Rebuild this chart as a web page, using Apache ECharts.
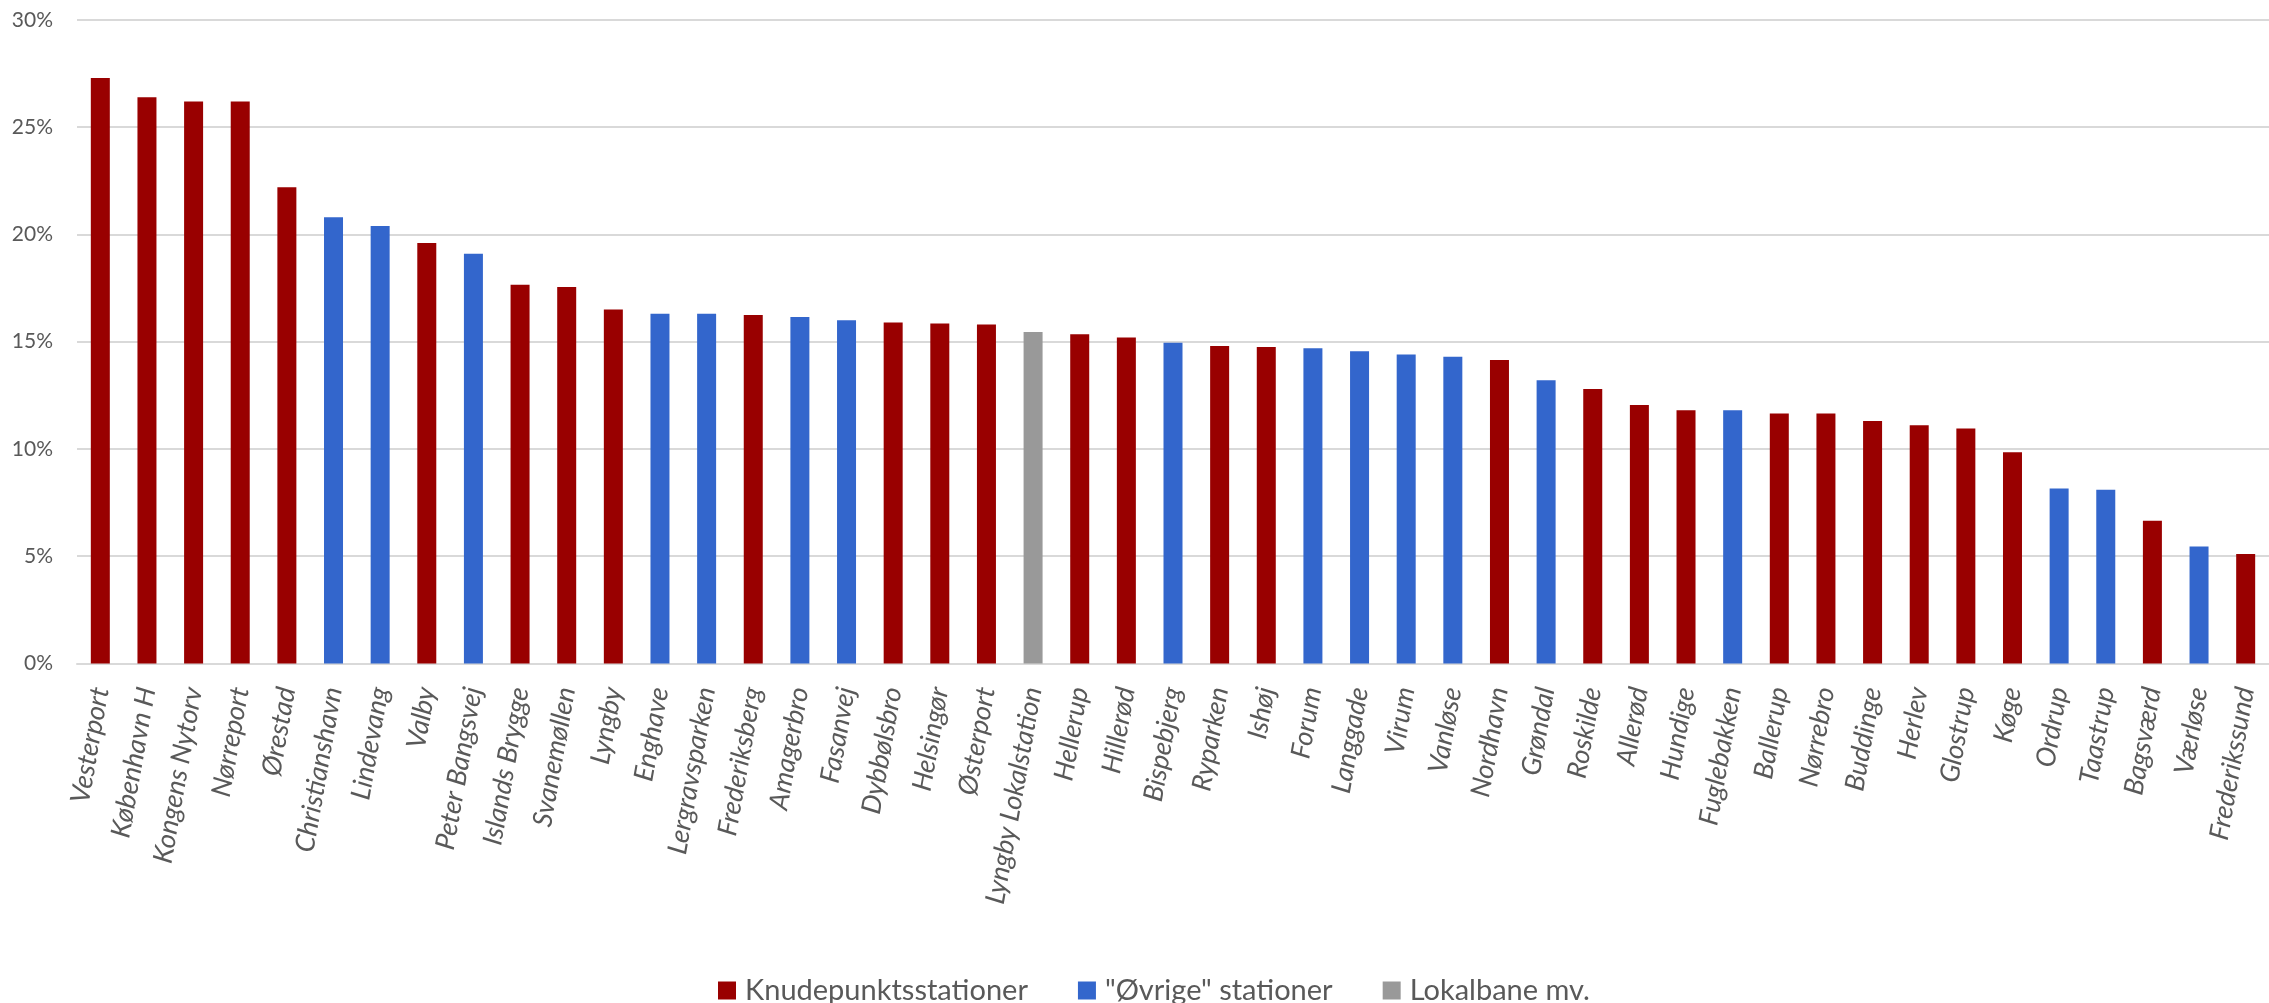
<!DOCTYPE html>
<html>
<head>
<meta charset="utf-8">
<script src="https://cdn.jsdelivr.net/npm/echarts@6/dist/echarts.min.js"></script>
<style>
  html, body { margin: 0; padding: 0; background: #ffffff; }
  #chart { width: 2269px; height: 1003px; }
</style>
</head>
<body>
<div id="chart"></div>
<script>
// Stations (x-axis categories)
const categories = [
  "Vesterport", "København H", "Kongens Nytorv", "Nørreport", "Ørestad",
  "Christianshavn", "Lindevang", "Valby", "Peter Bangsvej", "Islands Brygge",
  "Svanemøllen", "Lyngby", "Enghave", "Lergravsparken", "Frederiksberg",
  "Amagerbro", "Fasanvej", "Dybbølsbro", "Helsingør", "Østerport",
  "Lyngby Lokalstation", "Hellerup", "Hillerød", "Bispebjerg", "Ryparken",
  "Ishøj", "Forum", "Langgade", "Virum", "Vanløse",
  "Nordhavn", "Grøndal", "Roskilde", "Allerød", "Hundige",
  "Fuglebakken", "Ballerup", "Nørrebro", "Buddinge", "Herlev",
  "Glostrup", "Køge", "Ordrup", "Taastrup", "Bagsværd",
  "Værløse", "Frederikssund"
];
// Share in percent
const values = [
  27.3, 26.4, 26.2, 26.2, 22.2,
  20.8, 20.4, 19.6, 19.1, 17.65,
  17.55, 16.5, 16.3, 16.3, 16.25,
  16.15, 16.0, 15.9, 15.85, 15.8,
  15.45, 15.35, 15.2, 14.95, 14.8,
  14.75, 14.7, 14.55, 14.4, 14.3,
  14.15, 13.2, 12.8, 12.05, 11.8,
  11.8, 11.65, 11.65, 11.3, 11.1,
  10.95, 9.85, 8.15, 8.1, 6.65,
  5.45, 5.1
];
// Group per station: K = Knudepunktsstationer, O = "Øvrige" stationer, L = Lokalbane mv.
const groups = [
  "K","K","K","K","K",
  "O","O","K","O","K",
  "K","K","O","O","K",
  "O","O","K","K","K",
  "L","K","K","O","K",
  "K","O","O","O","O",
  "K","O","K","K","K",
  "O","K","K","K","K",
  "K","K","O","O","K",
  "O","K"
];
const seriesNames = ["Knudepunktsstationer", "\"Øvrige\" stationer", "Lokalbane mv."];
const seriesCodes = ["K", "O", "L"];
const seriesColors = ["#990000", "#3366CC", "#999999"];
const yTicks = [0, 5, 10, 15, 20, 25, 30];

const FONT = "Lato";
const chart = echarts.init(document.getElementById('chart'));
const series = seriesCodes.map((code, si) => ({
  name: seriesNames[si],
  type: 'bar',
  stack: 'total',
  barWidth: 19,
  itemStyle: { color: seriesColors[si] },
  data: values.map((v, i) => groups[i] === code ? v : '-')
}));

chart.setOption({
  animation: false,
  backgroundColor: '#ffffff',
  grid: { left: 77, right: -10.6, top: 20, bottom: 339.6, containLabel: false },
  legend: {
    data: seriesNames,
    left: 713,
    top: 971,
    icon: 'rect',
    itemWidth: 18,
    itemHeight: 18,
    itemGap: 50,
    textStyle: { fontFamily: FONT, fontSize: 29, color: '#595959', padding: [0, 0, 0, 4] }
  },
  xAxis: {
    type: 'category',
    data: categories,
    axisLine: { show: true, lineStyle: { color: '#d9d9d9', width: 2 } },
    axisTick: { show: false },
    axisLabel: {
      interval: 0,
      rotate: 80,
      margin: 24,
      fontFamily: FONT,
      fontStyle: 'italic',
      fontSize: 27,
      color: '#595959'
    }
  },
  yAxis: {
    type: 'value',
    min: yTicks[0],
    max: yTicks[yTicks.length - 1],
    interval: 5,
    axisLine: { show: false },
    axisTick: { show: false },
    splitLine: { lineStyle: { color: '#d9d9d9', width: 2 } },
    axisLabel: {
      formatter: '{value}%',
      margin: 24,
      fontFamily: FONT,
      fontSize: 21,
      color: '#595959'
    }
  },
  series: series
});
</script>
</body>
</html>
